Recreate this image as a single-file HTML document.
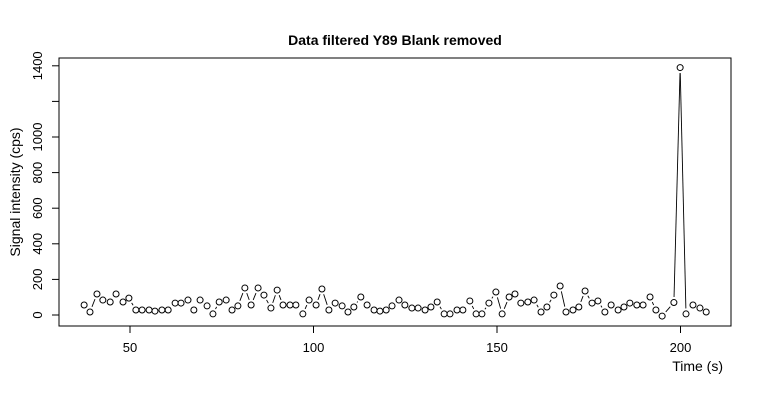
<!DOCTYPE html>
<html><head><meta charset="utf-8"><style>
body{margin:0;background:#fff}
svg{display:block;font-family:"Liberation Sans",sans-serif}
</style></head><body>
<svg id="chart" width="760" height="400">
<text x="395" y="45" text-anchor="middle" font-weight="bold" font-size="14">Data filtered Y89 Blank removed</text>
<rect x="59" y="58" width="672" height="268" fill="none" stroke="#000"/>
<text transform="translate(20,192) rotate(-90)" text-anchor="middle" font-size="14">Signal intensity (cps)</text>
<text x="723" y="371" text-anchor="end" font-size="14">Time (s)</text>
<g id="axes"></g><g id="series"></g>
</svg>
<script>
const times=[37.5,39.1,41.0,42.6,44.6,46.2,48.1,49.7,51.6,53.3,55.2,56.8,58.7,60.4,62.3,63.9,65.8,67.4,69.1,71.0,72.6,74.3,76.2,77.8,79.4,81.3,83.0,84.9,86.5,88.4,90.1,91.7,93.6,95.2,97.1,98.8,100.7,102.3,104.2,105.9,107.8,109.4,111.0,112.9,114.6,116.5,118.1,119.8,121.4,123.3,124.9,126.8,128.5,130.4,132.0,133.7,135.6,137.2,139.1,140.7,142.6,144.3,145.9,147.8,149.7,151.4,153.3,154.9,156.5,158.4,160.1,162.0,163.6,165.5,167.2,168.8,170.7,172.3,174.0,175.9,177.5,179.4,181.1,183.0,184.6,186.2,188.1,189.8,191.7,193.3,195.0,198.2,199.9,201.5,203.4,205.3,207.0];
const intensity=[56,17,118,84,73,118,73,95,28,28,28,22,28,28,67,67,84,28,84,51,6,73,84,28,51,152,56,152,112,39,140,56,56,56,6,84,56,146,28,67,51,17,45,101,56,28,22,28,51,84,56,39,39,28,45,73,6,6,28,28,79,6,6,67,129,6,101,118,67,73,84,17,45,112,163,17,28,45,135,67,79,17,56,28,45,67,56,56,101,28,-6,70,1390,6,56,39,17];
const xTicks=[50,100,150,200];
const yTicks=[0,200,400,600,800,1000,1200,1400];
const yTickLabels=["0","200","400","600","800","1000","","1400"];
const X=t=>130+(t-50)*3.67, Y=v=>315-v*0.178;
const NS="http://www.w3.org/2000/svg";
const ax=document.getElementById('axes'), se=document.getElementById('series');
function mk(tag,attrs,parent){const e=document.createElementNS(NS,tag);for(const k in attrs)e.setAttribute(k,attrs[k]);parent.appendChild(e);return e;}
let l=mk('line',{x1:X(50),x2:X(200),y1:326,y2:326,stroke:'#000'},ax);


xTicks.forEach(t=>{
 const tk=mk('line',{x1:X(t),x2:X(t),y1:326,y2:333,stroke:'#000'},ax);
 
 
 const tx=mk('text',{x:X(t),y:352,'text-anchor':'middle','font-size':13},ax);tx.textContent=t;
 
 
});
l=mk('line',{x1:59,x2:59,y1:Y(0),y2:Y(1400),stroke:'#000'},ax);


yTicks.forEach((v,i)=>{
 const tk=mk('line',{x1:52,x2:59,y1:Y(v),y2:Y(v),stroke:'#000'},ax);
 
 
 const tx=mk('text',{transform:`translate(42,${Y(v)}) rotate(-90)`,'text-anchor':'middle','font-size':13},ax);tx.textContent=yTickLabels[i];
 
 
});
const gap=5.5;
for(let i=0;i<times.length-1;i++){
 const x1=X(times[i]),y1=Y(intensity[i]),x2=X(times[i+1]),y2=Y(intensity[i+1]);
 const d=Math.hypot(x2-x1,y2-y1);if(d<=2*gap+1)continue;
 const ux=(x2-x1)/d,uy=(y2-y1)/d;
 const s=mk('line',{x1:x1+ux*gap,y1:y1+uy*gap,x2:x2-ux*gap,y2:y2-uy*gap,stroke:'#000','stroke-width':0.9},se);
 
 
}
times.forEach((t,i)=>{
 const c=mk('circle',{cx:X(t),cy:Y(intensity[i]),r:3,fill:'none',stroke:'#000','stroke-width':1},se);
 
 
});
</script>
</body></html>
